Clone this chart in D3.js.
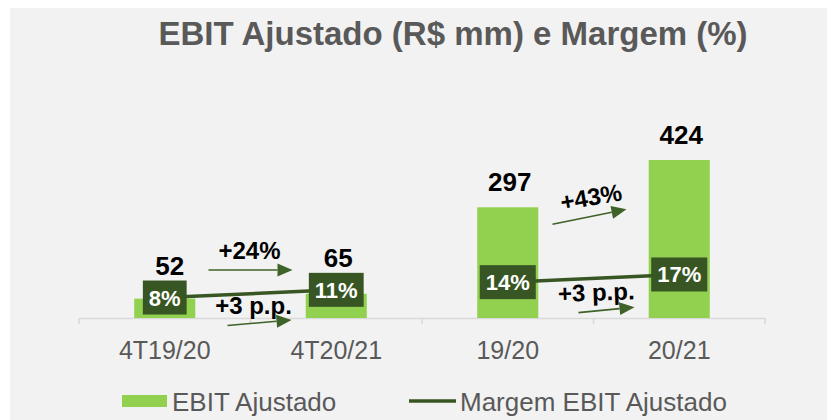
<!DOCTYPE html>
<html>
<head>
<meta charset="utf-8">
<script src="https://cdn.jsdelivr.net/npm/d3@7"></script>
<style>
  html, body { margin: 0; padding: 0; background: #fff; }
  svg { display: block; font-family: "Liberation Sans", Arial, sans-serif; }
</style>
</head>
<body>
<svg width="827" height="420"></svg>
<script>
const categories = ["4T19/20", "4T20/21", "19/20", "20/21"];
const ebit = [52, 65, 297, 424];
const margin = [8, 11, 14, 17];
const marginLabels = ["8%", "11%", "14%", "17%"];
const growthLabels = ["+24%", "+43%"];
const ppLabels = ["+3 p.p.", "+3 p.p."];
const pairs = [[0, 1], [2, 3]];

const svg = d3.select("svg");
const width = +svg.attr("width");
const height = +svg.attr("height");

const lightGreen = "#92d050";
const darkGreen = "#375623";
const arrowGreen = "#3e6228";
const gray = "#595959";

// panel
svg.append("rect")
    .attr("x", 10).attr("y", 8)
    .attr("width", width - 10).attr("height", height - 8)
    .attr("fill", "#f2f2f2");

svg.append("text")
    .attr("x", 453).attr("y", 45)
    .attr("text-anchor", "middle")
    .attr("font-size", 33).attr("font-weight", "bold")
    .attr("fill", gray)
    .text("EBIT Ajustado (R$ mm) e Margem (%)");

const x = d3.scaleBand().domain(categories).range([79, 765]).padding(0);
const y = d3.scaleLinear().domain([0, 450]).range([318, 150.3]);
const y2 = d3.scaleLinear().domain([0, 20]).range([318, 266.8]);
const barW = x.bandwidth() * 0.356;
const cx = d => x(d) + x.bandwidth() / 2;

// axis
const axis = svg.append("g").attr("transform", "translate(0,318)")
    .call(d3.axisBottom(x).tickSize(0).tickFormat(""));
axis.select(".domain").attr("stroke", "#d9d9d9").attr("stroke-width", 1.5);
svg.append("g").selectAll("line")
    .data(d3.range(categories.length + 1))
    .join("line")
    .attr("x1", i => 79 + i * x.bandwidth()).attr("x2", i => 79 + i * x.bandwidth())
    .attr("y1", 318).attr("y2", 324)
    .attr("stroke", "#d9d9d9").attr("stroke-width", 1.5);

svg.append("g").selectAll("text")
    .data(categories)
    .join("text")
    .attr("x", d => cx(d)).attr("y", 359)
    .attr("text-anchor", "middle")
    .attr("font-size", 25).attr("fill", gray)
    .text(d => d);

// bars
svg.append("g").selectAll("rect")
    .data(categories)
    .join("rect")
    .attr("x", d => cx(d) - barW / 2)
    .attr("y", (d, i) => y(ebit[i]))
    .attr("width", barW)
    .attr("height", (d, i) => y(0) - y(ebit[i]))
    .attr("fill", lightGreen);

// margin lines
const line = d3.line().x(d => cx(categories[d])).y(d => y2(margin[d]));
svg.append("g").selectAll("path")
    .data(pairs)
    .join("path")
    .attr("d", line)
    .attr("fill", "none")
    .attr("stroke", darkGreen)
    .attr("stroke-width", 3.5);

// margin boxes
const boxH = 34;
const boxes = svg.append("g").selectAll("g")
    .data(categories)
    .join("g")
    .attr("transform", (d, i) => `translate(${cx(d)},${y2(margin[i])})`);
const boxText = boxes.append("text")
    .attr("text-anchor", "middle").attr("y", 8)
    .attr("font-size", 22).attr("font-weight", "bold")
    .attr("fill", "#fff")
    .text((d, i) => marginLabels[i]);
boxes.insert("rect", "text")
    .each(function (d, i) {
        const tw = boxText.nodes()[i].getComputedTextLength();
        const w = Math.min(barW, tw + 12);
        d3.select(this)
            .attr("x", -w / 2).attr("y", -boxH / 2)
            .attr("width", w).attr("height", boxH)
            .attr("fill", darkGreen);
    });

// value labels
svg.append("g").selectAll("text")
    .data(categories)
    .join("text")
    .attr("x", (d, i) => cx(d) + (i === 0 ? 5 : 2))
    .attr("y", (d, i) => Math.min(y(ebit[i]) - 16, y2(margin[i]) - boxH / 2 - 6))
    .attr("text-anchor", "middle")
    .attr("font-size", 26).attr("font-weight", "bold")
    .attr("fill", "#000")
    .text((d, i) => ebit[i]);

// annotations: growth & margin change arrows
function arrow(g, x1, y1, x2, y2) {
    const a = Math.atan2(y2 - y1, x2 - x1);
    const L = 15, H = 6.5;
    const bx = x2 - L * Math.cos(a), by = y2 - L * Math.sin(a);
    g.append("line")
        .attr("x1", x1).attr("y1", y1).attr("x2", bx).attr("y2", by)
        .attr("stroke", arrowGreen).attr("stroke-width", 1.6);
    g.append("path")
        .attr("d", `M${x2},${y2}L${bx - H * Math.sin(a)},${by + H * Math.cos(a)}L${bx + H * Math.sin(a)},${by - H * Math.cos(a)}Z`)
        .attr("fill", arrowGreen);
}

const ann = svg.append("g");
pairs.forEach((p, k) => {
    const mid = (cx(categories[p[0]]) + cx(categories[p[1]])) / 2;
    const gTop = y(ebit[p[0]]);
    // growth label
    const rot = k === 0 ? 0 : -10;
    const gy = k === 0 ? 259 : gTop - 2;
    ann.append("text")
        .attr("transform", `translate(${mid - 1},${gy}) rotate(${rot})`)
        .attr("text-anchor", "middle")
        .attr("font-size", 24).attr("font-weight", "bold")
        .text(growthLabels[k]);
    if (k === 0) arrow(ann, mid - 42, 270, mid + 42, 270);
    else arrow(ann, mid - 41, gTop + 17, mid + 33, gTop + 2);

    // margin change label
    const py = y2(margin[p[0]]) + (k === 0 ? 16 : 18.5);
    ann.append("text")
        .attr("transform", `translate(${mid + 3},${py}) rotate(${k === 0 ? 0 : -2})`)
        .attr("text-anchor", "middle")
        .attr("font-size", 24).attr("font-weight", "bold")
        .text(ppLabels[k]);
    arrow(ann, mid - 23 + k * 8, py + 12, mid + 41, py + 6.5);
});

// legend
const lg = svg.append("g");
lg.append("rect").attr("x", 122).attr("y", 395).attr("width", 45).attr("height", 12).attr("fill", lightGreen);
lg.append("text").attr("x", 172).attr("y", 411).attr("font-size", 26).attr("fill", gray).text("EBIT Ajustado");
lg.append("line").attr("x1", 409).attr("x2", 456).attr("y1", 401).attr("y2", 401)
    .attr("stroke", darkGreen).attr("stroke-width", 3.5);
lg.append("text").attr("x", 460).attr("y", 411).attr("font-size", 26).attr("fill", gray).text("Margem EBIT Ajustado");
</script>
</body>
</html>
